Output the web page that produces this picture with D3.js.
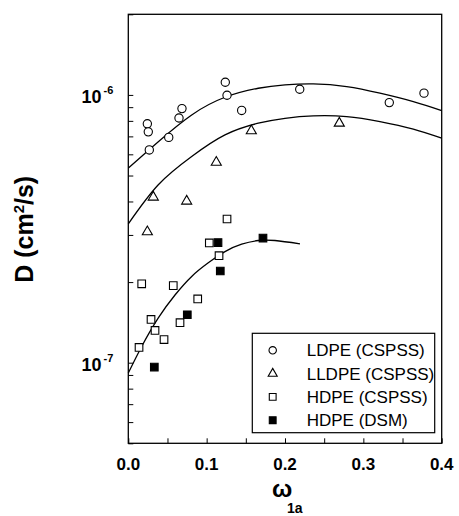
<!DOCTYPE html>
<html>
<head>
<meta charset="utf-8">
<script src="https://cdn.jsdelivr.net/npm/d3@7"></script>
<style>
  body { margin:0; background:#fff; }
  text { font-family: "Liberation Sans", Arial, sans-serif; fill:#000; }
</style>
</head>
<body>
<div id="plot"></div>
<script>
//data
var ldpeW = [0.0243, 0.0255, 0.0268, 0.0516, 0.0647, 0.0685, 0.1238, 0.126, 0.1447, 0.2188, 0.3331, 0.3774];
var ldpeD = [7.80e-7, 7.28e-7, 6.23e-7, 6.94e-7, 8.20e-7, 8.89e-7, 1.115e-6, 9.97e-7, 8.75e-7, 1.05e-6, 9.36e-7, 1.015e-6];

var lldpeW = [0.0243, 0.0319, 0.0745, 0.1123, 0.157, 0.2693];
var lldpeD = [3.08e-7, 4.15e-7, 4.01e-7, 5.60e-7, 7.34e-7, 7.84e-7];

var hdpeW = [0.0137, 0.0171, 0.029, 0.0341, 0.0456, 0.0574, 0.066, 0.0886, 0.1034, 0.1158, 0.126];
var hdpeD = [1.14e-7, 1.97e-7, 1.45e-7, 1.32e-7, 1.22e-7, 1.94e-7, 1.41e-7, 1.73e-7, 2.80e-7, 2.51e-7, 3.44e-7];

var dsmW = [0.0332, 0.0753, 0.1145, 0.1174, 0.1719];
var dsmD = [9.63e-8, 1.51e-7, 2.81e-7, 2.20e-7, 2.92e-7];

//fitted curves
var fitLdpeW = [0, 0.0383, 0.0809, 0.1234, 0.1659, 0.2, 0.2361, 0.2787, 0.3212, 0.3638, 0.4];
var fitLdpeD = [5.33e-7, 6.69e-7, 8.42e-7, 9.80e-7, 1.059e-6, 1.09e-6, 1.099e-6, 1.074e-6, 1.015e-6, 9.44e-7, 8.74e-7];
var fitLldpeW = [0, 0.0383, 0.0809, 0.1234, 0.1659, 0.2, 0.2361, 0.2787, 0.3212, 0.3638, 0.4];
var fitLldpeD = [3.30e-7, 4.62e-7, 5.89e-7, 7.09e-7, 7.84e-7, 8.18e-7, 8.35e-7, 8.30e-7, 7.95e-7, 7.45e-7, 6.89e-7];
var fitHdpeW = [0, 0.0171, 0.0383, 0.0596, 0.0809, 0.1021, 0.1234, 0.1447, 0.1659, 0.1872, 0.2191];
var fitHdpeD = [9.15e-8, 1.15e-7, 1.47e-7, 1.79e-7, 2.10e-7, 2.36e-7, 2.60e-7, 2.77e-7, 2.86e-7, 2.86e-7, 2.78e-7];

var xTicks = [0, 0.1, 0.2, 0.3, 0.4];
var yTicks = [1e-7, 1e-6];
var yExps = ['-7', '-6'];
var legendNames = ['LDPE (CSPSS)', 'LLDPE (CSPSS)', 'HDPE (CSPSS)', 'HDPE (DSM)'];

//margins
var margin = {t:14.3, r:17.3, b:72.7, l:128.3};
var W = 459, H = 516;
var width1 = W - margin.l - margin.r,
    height1 = H - margin.t - margin.b;

var svg = d3.select('#plot').append('svg')
    .attr('width', W)
    .attr('height', H);

var plot = svg.append('g')
    .attr('transform','translate('+margin.l+','+margin.t+')');

var x = d3.scaleLinear().domain([0,0.4]).range([0,width1]);
var y = d3.scaleLog().domain([5e-8,2e-6]).range([height1,0]);

//frame
plot.append('rect')
    .attr('width', width1)
    .attr('height', height1)
    .attr('fill','none')
    .attr('stroke','#000')
    .attr('stroke-width',1.3);

//x ticks, inside
var xAxis = d3.axisBottom(x).tickValues(d3.range(0,0.401,0.05)).tickSize(-5).tickFormat('');
plot.append('g')
    .attr('transform','translate(0,'+height1+')')
    .call(xAxis)
    .call(function(g){ g.select('.domain').remove(); g.selectAll('line').attr('stroke-width',1); });

plot.selectAll('.xlab')
    .data(xTicks)
    .enter()
    .append('text')
    .attr('class','xlab')
    .attr('x', function(d){ return x(d); })
    .attr('y', height1 + 27)
    .attr('text-anchor','middle')
    .style('font-size','17px')
    .style('font-weight','bold')
    .text(function(d){ return d.toFixed(1); });

//y ticks, inside, minor ones at 2..9
var minor = [];
[1e-8,1e-7,1e-6].forEach(function(dec){
    for (var k=1;k<10;k++){
        var v = dec*k;
        if (v >= 5e-8 && v <= 2e-6) minor.push(v);
    }
});
var yAxis = d3.axisLeft(y).tickValues(minor).tickSize(-5).tickFormat('');
plot.append('g')
    .call(yAxis)
    .call(function(g){ g.select('.domain').remove(); g.selectAll('line').attr('stroke-width',1); });

yTicks.forEach(function(t,i){
    var lab = plot.append('text')
        .attr('x', -15)
        .attr('y', y(t) + 8)
        .attr('text-anchor','end')
        .style('font-size','18px')
        .style('font-weight','bold');
    lab.append('tspan').text('10');
    lab.append('tspan')
        .attr('dx', 2)
        .attr('dy', -9)
        .style('font-size','11px')
        .text(yExps[i]);
});

//axis titles
svg.append('text')
    .attr('transform','translate(33,'+(margin.t+215)+') rotate(-90)')
    .attr('text-anchor','middle')
    .style('font-size','25px')
    .style('font-weight','bold')
    .html('D (cm<tspan dy="-9" style="font-size:15px">2</tspan><tspan dy="9">/s)</tspan>');

svg.append('text')
    .attr('x', 272)
    .attr('y', 497)
    .style('font-size','24px')
    .style('font-weight','bold')
    .text('ω');
svg.append('text')
    .attr('x', 287)
    .attr('y', 513)
    .style('font-size','14px')
    .style('font-weight','bold')
    .text('1a');

//fit lines
var line = d3.line()
    .x(function(d){ return x(d[0]); })
    .y(function(d){ return y(d[1]); })
    .curve(d3.curveNatural);

[[fitLdpeW,fitLdpeD],[fitLldpeW,fitLldpeD],[fitHdpeW,fitHdpeD]].forEach(function(f){
    plot.append('path')
        .datum(d3.zip(f[0], f[1]))
        .attr('d', line)
        .attr('fill','none')
        .attr('stroke','#000')
        .attr('stroke-width',1.3);
});

//markers
var sym = [d3.symbolCircle, d3.symbolTriangle, d3.symbolSquare, d3.symbolSquare];
var symSize = [54, 44, 58, 58];
var symFill = ['#fff','#fff','#fff','#000'];
var series = [[ldpeW,ldpeD],[lldpeW,lldpeD],[hdpeW,hdpeD],[dsmW,dsmD]];

series.forEach(function(s,i){
    plot.selectAll('.pt'+i)
        .data(d3.zip(s[0], s[1]))
        .enter()
        .append('path')
        .attr('class','pt'+i)
        .attr('transform', function(d){ return 'translate('+x(d[0])+','+y(d[1])+')'; })
        .attr('d', d3.symbol().type(sym[i]).size(symSize[i]))
        .attr('fill', symFill[i])
        .attr('stroke','#000')
        .attr('stroke-width',1.1);
});

//legend
var lg = svg.append('g').attr('transform','translate(252.3,333.3)');
lg.append('rect')
    .attr('width', 182.4)
    .attr('height', 99.4)
    .attr('fill','#fff')
    .attr('stroke','#000')
    .attr('stroke-width',1.2);

legendNames.forEach(function(n,i){
    var cy = 17 + i*23.3;
    lg.append('path')
        .attr('transform','translate(20.4,'+cy+')')
        .attr('d', d3.symbol().type(sym[i]).size(symSize[i]*0.8))
        .attr('fill', symFill[i])
        .attr('stroke','#000')
        .attr('stroke-width',1.1);
    lg.append('text')
        .attr('x', 54.4)
        .attr('y', cy + 6)
        .style('font-size','17px')
        .text(n);
});
</script>
</body>
</html>
